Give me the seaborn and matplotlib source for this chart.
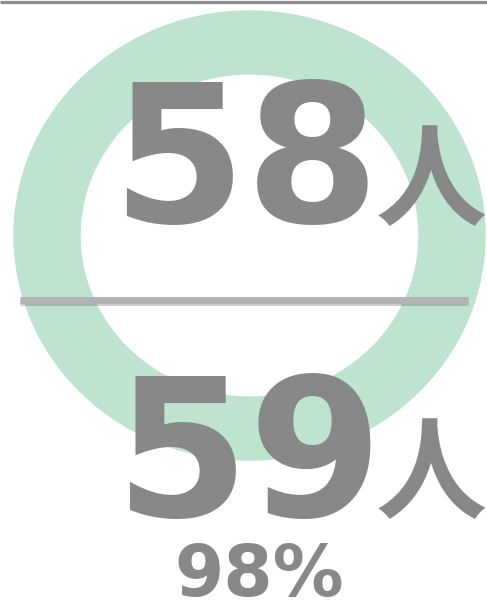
import matplotlib
matplotlib.use("Agg")
import matplotlib.pyplot as plt
import matplotlib.patheffects as pe
import seaborn as sns

# ---- data ----
attended = 58          # numerator
total = 59             # denominator
unit = "人"
ring_values = [attended, total - attended]
rate_label = f"{round(attended / total * 100)}%"

# ---- style ----
sns.set_theme(style="white")
plt.rcParams["font.family"] = ["DejaVu Sans", "Noto Sans CJK JP"]

ring_color = "#bee3cf"
text_color = "#888888"
W, H = 487, 612
fig = plt.figure(figsize=(W / 100, H / 100), dpi=100)
fig.patch.set_facecolor("white")

# ring (donut) axes, stretched slightly horizontally like the reference
rax = fig.add_axes([14 / W, 1 - 460 / H, 471 / W, 449 / H])
rax.pie(ring_values, colors=[ring_color, ring_color], startangle=90,
        counterclock=False, radius=1.0,
        wedgeprops=dict(width=0.28, linewidth=1.0, edgecolor=ring_color))
rax.set_aspect("auto")
rax.set_xlim(-1, 1)
rax.set_ylim(-1, 1)
rax.axis("off")

# overlay axes in pixel units
ax = fig.add_axes([0, 0, 1, 1], facecolor="none")
ax.set_xlim(0, W)
ax.set_ylim(H, 0)
ax.axis("off")

# top rule
ax.hlines(1.5, 0, W, color="#8c8c8c", lw=2.3)
# separator (fraction bar)
ax.hlines(299.5, 20, 468, color="#b3b3b3", lw=5.0,
          path_effects=[pe.SimpleLineShadow(offset=(0, -2), shadow_color="#555555", alpha=0.3),
                        pe.Normal()], zorder=3)

# numbers
ax.text(245, 222, str(attended), ha="center", va="baseline", fontsize=139,
        fontweight="bold", color=text_color, zorder=4)
ax.text(248, 516, str(total), ha="center", va="baseline", fontsize=139,
        fontweight="bold", color=text_color, zorder=4)
for yb in (217, 510):
    ax.text(431, yb, unit, ha="center", va="baseline", fontsize=80,
            family=["Noto Sans CJK JP"], fontweight="bold", color=text_color, zorder=4)
ax.text(259.5, 596, rate_label, ha="center", va="baseline", fontsize=51,
        fontweight="bold", color=text_color, zorder=4)

fig.savefig("out.png", dpi=100)
